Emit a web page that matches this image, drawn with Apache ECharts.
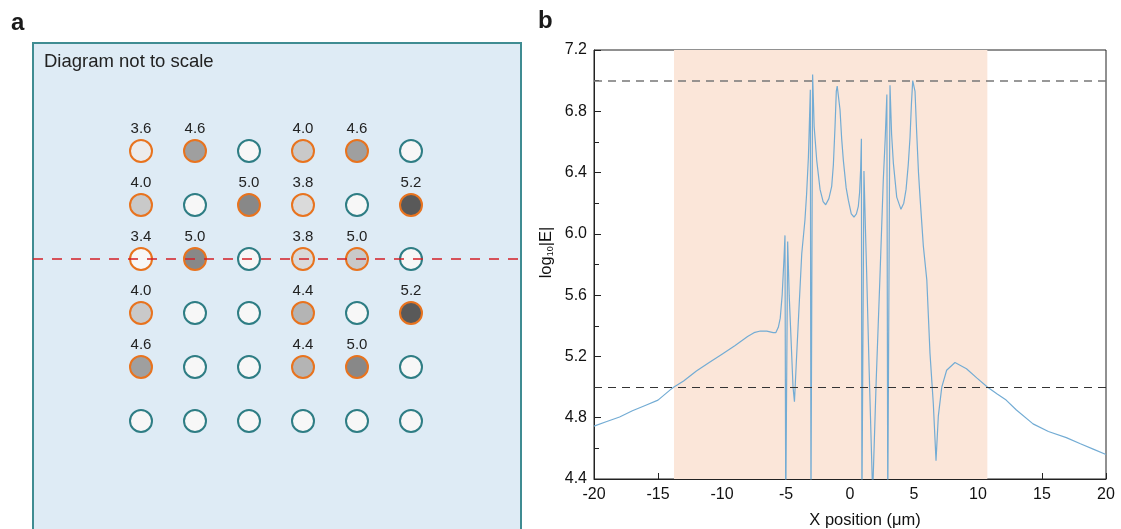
<!DOCTYPE html>
<html><head><meta charset="utf-8">
<script src="https://cdn.jsdelivr.net/npm/echarts@6/dist/echarts.min.js"></script>
<style>html,body{margin:0;padding:0;background:#fff}#c{width:1121px;height:529px}</style>
</head><body><div id="c"></div>
<script>
// ---------- Panel a: lattice sites (null = unlabelled site) ----------
const row1 = [3.6, 4.6, null, 4.0, 4.6, null];
const row2 = [4.0, null, 5.0, 3.8, null, 5.2];
const row3 = [3.4, 5.0, null, 3.8, 5.0, null];
const row4 = [4.0, null, null, 4.4, null, 5.2];
const row5 = [4.6, null, null, 4.4, 5.0, null];
const row6 = [null, null, null, null, null, null];
const cutRow = 3;

// ---------- Panel b: field profile ----------
const xPos = [-20,-19,-18,-17,-16,-15,-14,-13.75,-13,-12,-11,-10,-9,-8,-7.5,-7,-6.5,-6,-5.8,-5.6,-5.45,-5.3,-5.15,-5.08,-5.02,-4.95,-4.87,-4.75,-4.6,-4.45,-4.34,-4.2,-4.03,-3.77,-3.52,-3.39,-3.25,-3.18,-3.1,-3.05,-2.97,-2.92,-2.8,-2.6,-2.34,-2.1,-1.9,-1.65,-1.43,-1.3,-1.17,-1.07,-1.0,-0.9,-0.78,-0.65,-0.52,-0.3,-0.13,0.1,0.31,0.5,0.65,0.75,0.83,0.89,0.93,1.05,1.09,1.2,1.3,1.5,1.77,2.05,2.34,2.6,2.75,2.88,2.95,3.05,3.125,3.25,3.39,3.65,3.98,4.2,4.38,4.55,4.69,4.8,4.9,5.0,5.08,5.2,5.35,5.47,5.73,6.0,6.25,6.51,6.72,6.9,7.17,7.55,8.2,9.1,9.9,10.73,11.5,12.2,13,14.3,15.5,16.9,18,19,20];
const logE = [4.745,4.775,4.805,4.845,4.88,4.915,4.985,5.0,5.04,5.105,5.16,5.215,5.27,5.33,5.355,5.366,5.365,5.355,5.355,5.39,5.45,5.6,5.85,5.99,4.2,4.2,5.95,5.6,5.3,5.0,4.905,5.15,5.44,5.87,6.09,6.26,6.5,6.70,6.94,4.2,4.2,7.04,6.7,6.48,6.29,6.21,6.19,6.23,6.31,6.45,6.70,6.93,6.965,6.96,6.81,6.62,6.48,6.3,6.22,6.13,6.11,6.13,6.18,6.27,6.42,6.62,4.2,4.2,6.41,6.05,5.75,5.1,4.3,5.05,5.72,6.35,6.62,6.91,4.2,4.2,6.97,6.65,6.46,6.24,6.16,6.2,6.29,6.45,6.63,6.85,7.0,7.0,6.93,6.68,6.4,6.24,5.92,5.70,5.22,4.89,4.52,4.81,5.0,5.11,5.16,5.12,5.06,5.0,4.955,4.915,4.85,4.76,4.71,4.67,4.63,4.595,4.56];
const shadeRange = [-13.75, 10.73];
const refLevels = [7.0, 5.0];

// axis extents of the diagram frame (in column / row units)
const diagXRange = [-1, 8.037];
const diagYRange = [-1, 8.074];

const FONT = "'Liberation Sans', Arial, Helvetica, sans-serif";
const ORANGE = '#e8731e', TEAL = '#2e7d84', CUT_RED = '#d41f26';
const greyOf = {'3.4':'#f7f7f7','3.6':'#ececec','3.8':'#dadada','4.0':'#c9c9c9','4.4':'#b4b4b4','4.6':'#9f9f9f','5.0':'#888888','5.2':'#595959'};
const rows = [row1,row2,row3,row4,row5,row6];
const siteData = [];
rows.forEach((row, r) => row.forEach((v, c) => {
  let fill = v == null ? '#f7f7f7' : greyOf[v.toFixed(1)];
  if (r === 2 && c === 4) fill = '#c9c9c9';
  siteData.push({
    value: [c + 1, r + 1],
    itemStyle: { color: fill, borderColor: v == null ? TEAL : ORANGE, borderWidth: 2, opacity: 1 },
    label: { show: v != null, formatter: v == null ? '' : v.toFixed(1) }
  });
}));

const lineData = xPos.map((x, i) => [x, logE[i]]);
const cutLine = [[diagXRange[0], cutRow], [diagXRange[1], cutRow]];

const chart = echarts.init(document.getElementById('c'), null, { renderer: 'canvas' });
chart.setOption({
  animation: false,
  textStyle: { fontFamily: FONT },
  graphic: [
    { type: 'text', left: 11, top: 11, style: { text: 'a', font: 'bold 24px ' + FONT, fill: '#1a1a1a' } },
    { type: 'text', left: 538, top: 9, style: { text: 'b', font: 'bold 24px ' + FONT, fill: '#1a1a1a' } },
    { type: 'text', left: 44, top: 52, z: 10, style: { text: 'Diagram not to scale', font: '18.5px ' + FONT, fill: '#222' } }
  ],
  grid: [
    { left: 33, top: 43, width: 488, height: 490, show: true, backgroundColor: '#deebf5', borderColor: '#3f8c92', borderWidth: 2, outerBoundsMode: 'none', containLabel: false },
    { left: 594, top: 50, width: 512, height: 429, show: true, borderColor: '#222', borderWidth: 1, outerBoundsMode: 'none', containLabel: false }
  ],
  xAxis: [
    { gridIndex: 0, type: 'value', min: diagXRange[0], max: diagXRange[1], show: false },
    { gridIndex: 1, type: 'value', min: -20, max: 20, interval: 5,
      axisLine: { onZero: false, lineStyle: { color: '#222', width: 1 } },
      axisTick: { inside: true, length: 6, lineStyle: { color: '#222' } },
      axisLabel: { color: '#111', fontSize: 16, margin: 8, fontFamily: FONT },
      splitLine: { show: false },
      name: 'X position (μm)', nameLocation: 'middle', nameGap: 33,
      nameTextStyle: { fontSize: 16.5, color: '#111', fontFamily: FONT, padding: [0, 0, 0, 30] } }
  ],
  yAxis: [
    { gridIndex: 0, type: 'value', min: diagYRange[0], max: diagYRange[1], inverse: true, show: false },
    { gridIndex: 1, type: 'value', min: 4.4, max: 7.2, interval: 0.4,
      axisLine: { onZero: false, lineStyle: { color: '#222', width: 1 } },
      axisTick: { inside: true, length: 7, lineStyle: { color: '#222' } },
      minorTick: { show: true, splitNumber: 2, length: 5, lineStyle: { color: '#222' } },
      axisLabel: { color: '#111', fontSize: 16, margin: 7, fontFamily: FONT, formatter: v => v.toFixed(1) },
      splitLine: { show: false },
      name: 'log{s|10}|E|', nameLocation: 'middle', nameGap: 39, nameRotate: 90,
      nameTextStyle: { fontSize: 16.5, color: '#111', fontFamily: FONT, padding: [0, 0, 0, 24],
        rich: { s: { fontSize: 9, verticalAlign: 'bottom', padding: [6, 0, 0, 0], color: '#111' } } } }
  ],
  series: [
    { type: 'scatter', xAxisIndex: 0, yAxisIndex: 0, symbol: 'circle', symbolSize: 22, z: 2,
      itemStyle: { opacity: 1 },
      label: { position: 'top', distance: 3, color: '#222', fontSize: 15, fontFamily: FONT },
      data: siteData },
    { type: 'line', xAxisIndex: 0, yAxisIndex: 0, data: cutLine, z: 5, symbol: 'none', silent: true,
      lineStyle: { color: CUT_RED, width: 1.5, type: [10, 9], opacity: 1 } },
    { type: 'line', xAxisIndex: 1, yAxisIndex: 1, data: [], z: 1,
      markArea: { silent: true, itemStyle: { color: '#fbe6d9' },
        data: [[{ xAxis: shadeRange[0] }, { xAxis: shadeRange[1] }]] } },
    { type: 'line', xAxisIndex: 1, yAxisIndex: 1, data: lineData, z: 3,
      symbol: 'none', smooth: false, clip: true,
      lineStyle: { color: '#73acd4', width: 1.2 } },
    { type: 'line', xAxisIndex: 1, yAxisIndex: 1, data: [], z: 4, color: '#555',
      markLine: { silent: true, symbol: 'none', label: { show: false },
        data: [
          { yAxis: refLevels[0], lineStyle: { color: '#777', width: 1.5, type: [8, 6] } },
          { yAxis: refLevels[1], lineStyle: { color: '#333', width: 1, type: [8, 6] } }
        ] } }
  ]
});
</script></body></html>
